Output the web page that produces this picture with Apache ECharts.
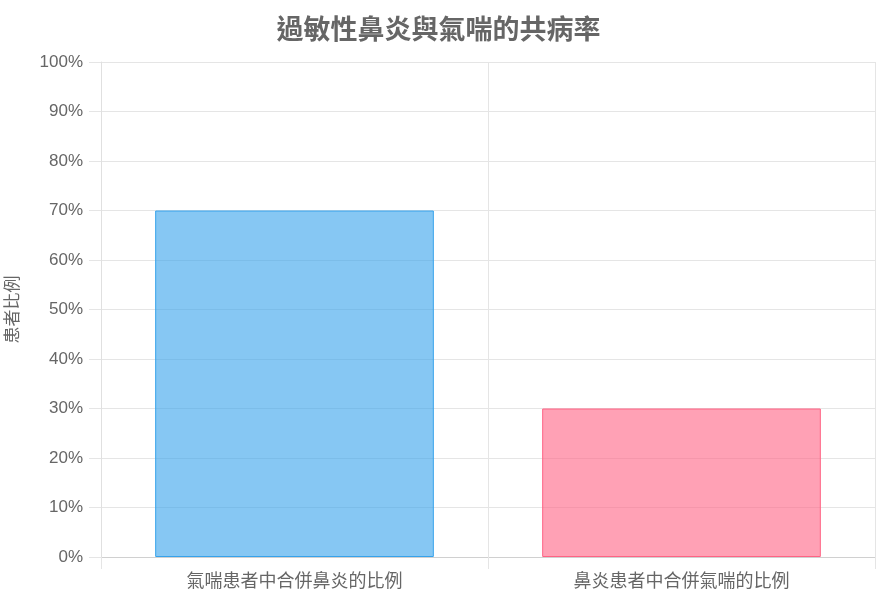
<!DOCTYPE html>
<html>
<head>
<meta charset="utf-8">
<script src="https://cdn.jsdelivr.net/npm/echarts@6/dist/echarts.min.js"></script>
<style>html,body{margin:0;padding:0;background:#fff;}#c{width:877px;height:600px;}</style>
</head>
<body>
<div id="c"></div>
<script>
const titleText = '過敏性鼻炎與氣喘的共病率';
const categories = ['氣喘患者中合併鼻炎的比例', '鼻炎患者中合併氣喘的比例'];
const values = [70, 30];
const yAxisName = '患者比例';

const fills = ['rgba(54,162,235,0.6)', 'rgba(255,99,132,0.6)'];
const borders = ['rgb(54,162,235)', 'rgb(255,99,132)'];
const FONT = '"Liberation Sans", "Noto Sans CJK TC", sans-serif';

const chart = echarts.init(document.getElementById('c'), null, {renderer: 'canvas'});
chart.setOption({
  animation: false,
  textStyle: {fontFamily: FONT},
  title: {
    text: titleText,
    left: 'center',
    top: 13,
    textStyle: {fontFamily: FONT, fontSize: 27, fontWeight: 'bold', color: '#666'}
  },
  grid: {left: 101, right: 2, top: 62, bottom: 43, containLabel: false, outerBoundsMode: 'none'},
  xAxis: {
    type: 'category',
    data: categories,
    boundaryGap: true,
    axisLine: {show: true, lineStyle: {color: '#d0d0d0', width: 1}},
    axisTick: {show: true, length: 12, lineStyle: {color: '#e5e5e5'}},
    splitLine: {show: true, lineStyle: {color: '#e5e5e5'}},
    axisLabel: {fontFamily: FONT, fontSize: 18, color: '#666', margin: 16}
  },
  yAxis: {
    type: 'value',
    min: 0,
    max: 100,
    interval: 10,
    name: yAxisName,
    nameLocation: 'middle',
    nameGap: 79,
    nameRotate: 90,
    nameTextStyle: {fontFamily: FONT, fontSize: 17, color: '#666'},
    axisLine: {show: true, lineStyle: {color: '#e0e0e0'}},
    axisTick: {show: true, length: 12, lineStyle: {color: '#e5e5e5'}},
    splitLine: {show: true, lineStyle: {color: '#e5e5e5'}},
    axisLabel: {fontFamily: FONT, fontSize: 17, color: '#666', margin: 18, formatter: '{value}%'}
  },
  series: [{
    type: 'bar',
    barWidth: '72%',
    data: values.map((v, i) => ({
      value: v,
      itemStyle: {color: fills[i], borderColor: borders[i], borderWidth: 1}
    }))
  }]
});
</script>
</body>
</html>
